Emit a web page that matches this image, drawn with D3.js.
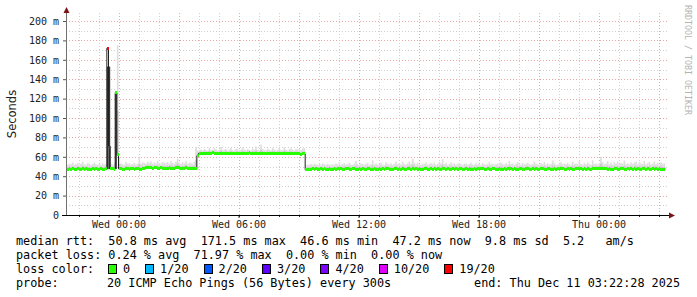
<!DOCTYPE html>
<html>
<head>
<meta charset="utf-8">
<script src="https://cdn.jsdelivr.net/npm/d3@7"></script>
<style>
  body { margin: 0; background: #fff; }
  svg { display: block; }
  text { font-family: "DejaVu Sans Mono", monospace; }
</style>
</head>
<body>
<div id="chart"></div>
<script>
var WIDTH = 697,
    HEIGHT = 297,
    STEP = 5 * 60 * 1000,
    FIRST_STEP = Date.UTC(2025, 11, 9, 21, 25),   // end time of the first 5 min bucket
    GRAPH_START = Date.UTC(2025, 11, 9, 21, 22, 28),
    GRAPH_END = Date.UTC(2025, 11, 11, 3, 22, 28);

// median rtt per 5 minute step, ms
var median = [
    47.4, 47.2, 47.6, 47.3, 47.5, 47.1, 47.4, 47.8, 47.3, 47.2, 47.5, 47.4, 47.6, 47.3, 47.1, 47.4, 47.5, 47.2, 47.6, 47.4,
    47.3, 47.5, 47.2, 47.4, 47.6, 172.0, 71.0, 47.8, 47.5, 47.3, 126.0, 62.0, 47.6, 47.9, 47.4, 47.2, 47.5, 47.8, 47.3, 47.6,
    47.5, 47.3, 47.6, 47.8, 47.4, 47.2, 47.6, 47.5, 48.8, 49.2, 48.9, 48.5, 48.2, 48.6, 49.0, 48.4, 48.1, 48.7, 48.3, 48.0,
    47.9, 48.3, 48.6, 48.2, 47.8, 48.4, 48.9, 49.3, 48.7, 48.1, 47.9, 48.2, 48.5, 48.0, 47.7, 48.1, 48.3, 47.9, 47.6, 61.0,
    63.5, 63.8, 63.4, 63.6, 63.9, 63.3, 63.7, 63.5, 64.0, 63.6, 63.4, 63.8, 63.5, 63.7, 63.3, 63.6, 63.9, 63.5, 63.4, 63.7,
    63.6, 63.8, 63.4, 63.5, 63.9, 63.6, 63.3, 63.7, 63.5, 63.8, 64.1, 63.6, 63.4, 63.7, 63.5, 63.8, 63.6, 63.3, 63.7, 63.5,
    63.8, 63.4, 63.6, 63.9, 63.5, 63.7, 63.3, 63.6, 63.8, 63.5, 63.4, 63.7, 63.6, 63.9, 63.5, 63.3, 63.6, 63.8, 63.4, 63.2,
    63.0, 62.8, 63.1, 62.9, 46.6, 47.0, 47.4, 47.2, 47.5, 47.3, 47.6, 47.4, 47.1, 47.5, 47.3, 47.6, 47.2, 47.4, 47.5, 47.3,
    47.4, 47.6, 47.2, 47.5, 47.3, 47.7, 47.4, 47.2, 47.5, 47.6, 47.3, 47.4, 47.8, 47.5, 47.2, 47.4, 47.6, 47.3, 47.5, 47.4,
    47.2, 47.5, 47.7, 47.4, 47.3, 47.6, 47.4, 47.2, 47.5, 47.3, 47.6, 47.4, 47.7, 47.5, 47.2, 47.4, 47.3, 47.6, 47.5, 47.4,
    47.6, 47.3, 47.5, 47.4, 47.2, 47.6, 47.5, 47.3, 47.7, 47.4, 47.5, 47.2, 47.6, 47.4, 47.3, 47.5, 47.7, 47.4, 47.2, 47.5,
    47.4, 47.6, 47.3, 47.5, 47.2, 47.4, 47.7, 47.5, 47.3, 47.6, 47.4, 47.2, 47.5, 47.3, 47.6, 47.4, 47.5, 47.7, 47.3, 47.4,
    47.5, 47.3, 47.6, 47.4, 47.2, 47.5, 47.4, 47.7, 47.3, 47.5, 47.6, 47.4, 47.2, 47.5, 47.3, 47.4, 47.6, 47.5, 47.3, 47.4,
    47.6, 47.4, 47.2, 47.5, 47.3, 47.7, 47.4, 47.5, 47.2, 47.6, 47.4, 47.3, 47.5, 47.7, 47.4, 47.2, 47.5, 47.6, 47.3, 47.4,
    47.5, 47.3, 47.6, 47.4, 47.2, 47.5, 47.7, 47.4, 47.3, 47.6, 47.5, 47.2, 47.4, 47.6, 47.3, 47.5, 47.4, 47.7, 47.5, 47.3,
    47.4, 47.6, 47.3, 47.5, 47.2, 47.4, 47.6, 47.5, 47.3, 47.7, 47.4, 47.5, 47.2, 47.6, 47.4, 47.3, 47.5, 47.7, 47.8, 48.1,
    48.2, 48.0, 47.8, 47.6, 47.5, 47.3, 47.6, 47.4, 47.2, 47.5, 47.7, 47.4, 47.3, 47.6, 47.5, 47.2, 47.4, 47.6, 47.3, 47.5,
    47.4, 47.6, 47.3, 47.5, 47.2, 47.4, 47.7, 47.5, 47.3, 47.6, 47.4, 47.2, 47.5, 47.3, 47.6, 47.4, 47.5, 47.3, 47.4, 47.2
];

// slowest ping of each step (top of the smoke), ms
var smokeMax = [
    52.1, 51.5, 53.0, 52.4, 54.2, 51.8, 52.6, 53.4, 51.9, 52.8, 55.1, 52.2, 51.7, 53.6, 52.9, 51.4, 52.5, 54.0, 52.3, 51.9,
    52.7, 51.6, 53.2, 52.0, 52.5, 153, 153, 52.8, 51.9, 53.4, 126, 175, 59.8, 53.1, 52.4, 51.8, 54.6, 52.9, 53.3, 52.0,
    52.5, 53.8, 51.9, 53.0, 60.2, 52.6, 54.1, 53.5, 52.8, 54.9, 53.6, 55.2, 52.9, 54.4, 53.1, 55.8, 53.7, 52.4, 54.6, 53.9,
    53.2, 54.5, 52.8, 55.4, 53.6, 52.7, 54.8, 57.9, 53.9, 52.6, 54.2, 53.4, 55.6, 52.9, 54.1, 53.5, 52.8, 54.7, 70.2, 66.5,
    66.8, 67.5, 66.2, 68.1, 67.0, 66.5, 69.4, 67.2, 66.9, 68.5, 67.8, 66.4, 67.3, 70.1, 66.9, 67.6, 68.2, 66.7, 67.4, 69.0,
    67.1, 66.6, 68.4, 67.9, 66.8, 67.3, 69.6, 67.5, 66.9, 68.0, 67.2, 66.5, 68.7, 67.4, 70.8, 67.0, 66.8, 72.6, 68.1, 67.3,
    66.9, 68.3, 67.5, 66.7, 69.2, 67.8, 66.6, 67.4, 68.6, 67.1, 66.8, 69.9, 67.6, 66.5, 67.9, 68.8, 67.2, 66.7, 68.0, 67.5,
    67.8, 66.9, 68.4, 69.0, 51.2, 52.0, 51.4, 52.6, 51.8, 53.0, 52.2, 51.6, 52.8, 51.9, 53.3, 52.4, 51.7, 52.9, 52.1, 51.5,
    52.3, 51.8, 53.1, 52.0, 54.2, 51.6, 52.7, 53.5, 51.9, 52.4, 53.8, 52.1, 51.7, 52.9, 55.6, 52.3, 51.8, 53.2, 52.6, 51.9,
    52.8, 53.6, 51.7, 52.4, 56.3, 52.0, 53.1, 51.8, 52.6, 53.9, 52.2, 51.6, 54.4, 52.9, 52.1, 53.3, 51.9, 52.7, 55.0, 52.4,
    53.5, 52.1, 54.8, 52.6, 51.9, 53.2, 55.4, 52.8, 58.0, 54.1, 52.3, 53.7, 52.0, 51.8, 53.0, 52.5, 54.3, 51.9, 52.8, 53.4,
    52.2, 53.9, 51.7, 52.6, 54.7, 53.1, 57.6, 52.4, 53.8, 51.9, 52.7, 54.2, 52.0, 53.4, 51.8, 52.9, 53.6, 52.3, 51.7, 52.8,
    53.2, 51.9, 52.6, 54.0, 52.3, 51.8, 53.5, 52.1, 52.9, 51.6, 53.7, 52.4, 51.9, 52.7, 54.5, 52.2, 53.0, 51.8, 52.5, 53.3,
    52.0, 54.1, 52.7, 51.9, 53.4, 52.2, 55.8, 52.6, 53.1, 51.8, 52.9, 54.6, 52.3, 51.7, 53.5, 52.1, 52.8, 53.9, 52.4, 51.9,
    52.7, 55.2, 53.0, 52.3, 51.8, 53.6, 52.5, 54.8, 52.1, 53.3, 51.9, 52.6, 56.1, 53.4, 52.0, 51.8, 52.9, 54.3, 52.2, 53.1,
    52.4, 53.8, 52.0, 51.7, 54.9, 52.6, 53.3, 52.1, 55.5, 52.8, 51.9, 53.6, 52.3, 54.2, 52.7, 51.8, 56.4, 52.5, 53.0, 52.2,
    53.7, 60.1, 54.4, 52.6, 53.2, 55.7, 52.3, 53.9, 52.1, 54.6, 53.0, 55.3, 52.4, 53.6, 52.8, 56.0, 52.5, 53.3, 52.0, 54.1,
    52.6, 53.9, 55.2, 52.3, 54.4, 53.1, 52.7, 55.6, 52.2, 53.5, 54.8, 52.4, 53.0, 55.1, 52.5, 53.7, 52.1, 54.3, 52.8, 53.2
];

// steps that lost pings: index and number lost out of 20
var lossSteps = [25, 26];
var lossCounts = [19, 3];

// steps where the smoke is dense and dark (few pings spread wide)
var denseSteps = [25, 26, 30];
var denseLow = [47.2, 47.3, 47.4];
var denseTop = [153, 153, 126];

var yTicks = [0, 20, 40, 60, 80, 100, 120, 140, 160, 180, 200];
var xTicks = [
    Date.UTC(2025, 11, 10, 0), Date.UTC(2025, 11, 10, 6), Date.UTC(2025, 11, 10, 12),
    Date.UTC(2025, 11, 10, 18), Date.UTC(2025, 11, 11, 0)
];

var lossThresholds = [0, 1, 2, 3, 4, 10, 19];
var lossLabels = ['0', '1/20', '2/20', '3/20', '4/20', '10/20', '19/20'];
var lossColors = ['#26ff00', '#00b8ff', '#0059ff', '#5e00ff', '#7e00ff', '#dd00ff', '#ff0000'];

var statLines = [
    'median rtt:  50.8 ms avg  171.5 ms max  46.6 ms min  47.2 ms now  9.8 ms sd  5.2   am/s',
    'packet loss: 0.24 % avg  71.97 % max  0.00 % min  0.00 % now'
];
var probeText = '20 ICMP Echo Pings (56 Bytes) every 300s';
var endText = 'end: Thu Dec 11 03:22:28 2025';

function lossColor(count) {
    var c = lossColors[0];
    for (var k = 0; k < lossThresholds.length; k++) {
        if (count >= lossThresholds[k]) c = lossColors[k];
    }
    return c;
}

var x = d3.scaleUtc()
    .domain([new Date(GRAPH_START), new Date(GRAPH_END)])
    .range([66, 666]);

var y = d3.scaleLinear()
    .domain([0, 200])
    .range([215, 21]);

var PLOT_TOP = 13,
    PLOT_LEFT = 66,
    PLOT_RIGHT = 668,
    BASE = y(0);

var steps = median.map(function (v, i) {
    var t = FIRST_STEP + i * STEP;
    var li = lossSteps.indexOf(i);
    return {
        i: i,
        x0: Math.max(PLOT_LEFT, x(new Date(t - STEP))),
        x1: x(new Date(t)),
        t: t,
        median: v,
        max: smokeMax[i],
        loss: li >= 0 ? lossCounts[li] : 0,
        dense: denseSteps.indexOf(i) >= 0
    };
});

var svg = d3.select('#chart').append('svg')
    .attr('width', WIDTH)
    .attr('height', HEIGHT)
    .style('background', '#fff');

// grid
var grid = svg.append('g').attr('class', 'grid').attr('shape-rendering', 'crispEdges');

var hLines = d3.range(10, 201, 10);
grid.selectAll('line.h')
    .data(hLines)
    .enter().append('line')
    .attr('x1', PLOT_LEFT).attr('x2', PLOT_RIGHT)
    .attr('y1', function (d) { return Math.round(y(d)) + 0.5; })
    .attr('y2', function (d) { return Math.round(y(d)) + 0.5; })
    .attr('stroke', function (d) { return d % 20 === 0 ? '#e8a8a8' : '#cfcfcf'; })
    .attr('stroke-dasharray', '1,2');

var hours = d3.utcHour.range(new Date(GRAPH_START), new Date(GRAPH_END));
grid.selectAll('line.v')
    .data(hours)
    .enter().append('line')
    .attr('y1', PLOT_TOP).attr('y2', BASE)
    .attr('x1', function (d) { return Math.round(x(d)) + 0.5; })
    .attr('x2', function (d) { return Math.round(x(d)) + 0.5; })
    .attr('stroke', function (d) { return d.getUTCHours() % 3 === 0 ? '#e8a8a8' : '#cfcfcf'; })
    .attr('stroke-dasharray', '1,2');

// smoke
var smoke = svg.append('g').attr('class', 'smoke');
var lightSteps = steps.filter(function (d) { return !d.dense && d.max > d.median; });

smoke.selectAll('rect.outer')
    .data(lightSteps)
    .enter().append('rect')
    .attr('x', function (d) { return d.x0; })
    .attr('width', function (d) { return d.x1 - d.x0; })
    .attr('y', function (d) { return y(d.max); })
    .attr('height', function (d) { return y(d.median) - y(d.max); })
    .attr('fill', '#dedede');

smoke.selectAll('rect.inner')
    .data(lightSteps)
    .enter().append('rect')
    .attr('x', function (d) { return d.x0; })
    .attr('width', function (d) { return d.x1 - d.x0; })
    .attr('y', function (d) { return y(d.median + (d.max - d.median) * 0.4); })
    .attr('height', function (d) { return y(d.median) - y(d.median + (d.max - d.median) * 0.4); })
    .attr('fill', '#c6c6c6');

smoke.selectAll('rect.dense')
    .data(denseSteps)
    .enter().append('rect')
    .attr('x', function (d) { return steps[d].x0; })
    .attr('width', function (d) { return steps[d].x1 - steps[d].x0; })
    .attr('y', function (d, k) { return y(denseTop[k]); })
    .attr('height', function (d, k) { return y(denseLow[k]) - y(denseTop[k]); })
    .attr('fill', '#353535');

// black median line, then coloured loss segments on top
var medianLine = d3.line()
    .x(function (d) { return d.x; })
    .y(function (d) { return y(d.v); })
    .curve(d3.curveStepBefore);

var linePts = [{ x: steps[0].x0, v: steps[0].median }].concat(steps.map(function (d) {
    return { x: d.x1, v: d.median };
}));

svg.append('path')
    .datum(linePts)
    .attr('d', medianLine)
    .attr('fill', 'none')
    .attr('stroke', '#202020')
    .attr('stroke-width', 1);

svg.append('g').attr('class', 'median')
    .attr('shape-rendering', 'crispEdges')
    .selectAll('rect')
    .data(steps)
    .enter().append('rect')
    .attr('x', function (d) { return Math.round(d.x0); })
    .attr('width', function (d) { return Math.round(d.x1) - Math.round(d.x0); })
    .attr('y', function (d) { return Math.round(y(d.median) - 1.5); })
    .attr('height', 3)
    .attr('fill', function (d) { return lossColor(d.loss); });

// axes
var yAxis = d3.axisLeft(y)
    .tickValues(yTicks)
    .tickSize(3)
    .tickPadding(4)
    .tickFormat(function (d) { return d === 0 ? '0' : d + ' m'; });

svg.append('g')
    .attr('transform', 'translate(' + PLOT_LEFT + ',0)')
    .call(yAxis)
    .call(function (g) { g.select('.domain').remove(); })
    .call(function (g) {
        g.selectAll('text').attr('font-family', '"DejaVu Sans Mono", monospace').attr('font-size', 10).attr('fill', '#222');
        g.selectAll('line').attr('stroke', '#555');
    });

var xAxis = d3.axisBottom(x)
    .tickValues(xTicks.map(function (t) { return new Date(t); }))
    .tickSize(3)
    .tickPadding(2.5)
    .tickFormat(d3.utcFormat('%a %H:%M'));

svg.append('g')
    .attr('transform', 'translate(0,' + BASE + ')')
    .call(xAxis)
    .call(function (g) { g.select('.domain').remove(); })
    .call(function (g) {
        g.selectAll('text').attr('font-family', '"DejaVu Sans Mono", monospace').attr('font-size', 10).attr('fill', '#222');
        g.selectAll('line').attr('stroke', '#333');
    });

svg.append('g').attr('shape-rendering', 'crispEdges')
    .selectAll('line')
    .data(hours)
    .enter().append('line')
    .attr('x1', function (d) { return Math.round(x(d)) + 0.5; })
    .attr('x2', function (d) { return Math.round(x(d)) + 0.5; })
    .attr('y1', BASE).attr('y2', BASE + 2)
    .attr('stroke', '#333');

svg.append('line')
    .attr('x1', PLOT_LEFT + 0.5).attr('x2', PLOT_LEFT + 0.5)
    .attr('y1', BASE).attr('y2', PLOT_TOP - 2)
    .attr('stroke', '#707070');

svg.append('line')
    .attr('x1', PLOT_LEFT - 4).attr('x2', 670)
    .attr('y1', BASE + 0.5).attr('y2', BASE + 0.5)
    .attr('stroke', '#000');

svg.append('path')
    .attr('d', 'M' + (PLOT_LEFT - 2.5) + ',13 L' + (PLOT_LEFT + 3.5) + ',13 L' + (PLOT_LEFT + 0.5) + ',7 Z')
    .attr('fill', '#7d1414');

svg.append('path')
    .attr('d', 'M669,' + (BASE - 2.5) + ' L669,' + (BASE + 3.5) + ' L675,' + (BASE + 0.5) + ' Z')
    .attr('fill', '#7d1414');

// titles
svg.append('text')
    .attr('transform', 'translate(15.5,114) rotate(-90)')
    .attr('text-anchor', 'middle')
    .style('font-family', '"DejaVu Sans", sans-serif')
    .attr('font-size', 11.5)
    .attr('fill', '#222')
    .text('Seconds');

svg.append('text')
    .attr('transform', 'translate(685,5) rotate(90)')
    .attr('font-size', 8.3)
    .attr('fill', '#b4b4b4')
    .text('RRDTOOL / TOBI OETIKER');

// legend
var legend = svg.append('g')
    .attr('font-size', 11.8)
    .attr('fill', '#000');

legend.selectAll('text.stat')
    .data(statLines)
    .enter().append('text')
    .attr('x', 16)
    .attr('y', function (d, i) { return 245 + i * 14; })
    .attr('xml:space', 'preserve')
    .style('white-space', 'pre')
    .text(function (d) { return d; });

legend.append('text')
    .attr('x', 16).attr('y', 273)
    .text('loss color:');

var lx = 108;
lossLabels.forEach(function (label, k) {
    legend.append('rect')
        .attr('x', lx + 0.5).attr('y', 264.5)
        .attr('width', 8).attr('height', 9)
        .attr('fill', lossColors[k])
        .attr('stroke', '#000')
        .attr('shape-rendering', 'crispEdges');
    var t = legend.append('text')
        .attr('x', lx + 15).attr('y', 273)
        .text(label);
    lx = lx + 15 + t.node().getComputedTextLength() + 15;
});

legend.append('text')
    .attr('x', 16).attr('y', 287)
    .text('probe:');

legend.append('text')
    .attr('x', 107).attr('y', 287)
    .text(probeText);

legend.append('text')
    .attr('x', 680).attr('y', 287)
    .attr('text-anchor', 'end')
    .text(endText);
</script>
</body>
</html>
